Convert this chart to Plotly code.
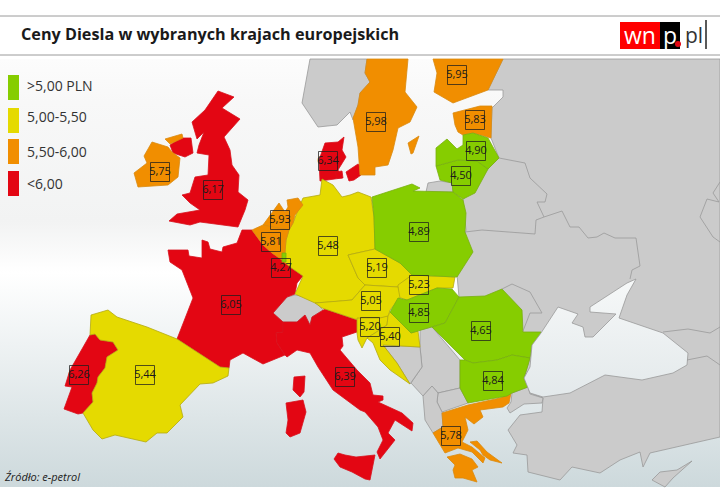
import plotly.graph_objects as go

RED = "#e30613"; YEL = "#e5da00"; ORA = "#f18e00"; GRN = "#86cd00"; GRY = "#cbcbcb"

east = [(503,59),(720,59),(720,437),(650,453),(643,467),(640,452),(620,460),(600,473),(572,467),(560,480),(528,472),(527,455),(513,453),(517,445),(508,430),(520,415),(542,412),(543,398),(530,393),(524,378),(530,358),(480,345),(459,297),(457,275),(466,230),(463,200),(488,169),(499,158),(491,138),(492,108),(503,97),(503,90),(488,90)]
black_sea = [(558,307),(578,314),(572,323),(583,327),(585,337),(593,337),(616,314),(590,312),(590,307),(627,283),(636,279),(627,295),(619,318),(663,333),(688,353),(687,365),(673,373),(642,380),(605,375),(570,393),(543,397),(530,393),(524,378),(530,367),(532,345),(541,333)]
norway = [(310,59),(360,59),(367,59),(365,73),(370,82),(360,93),(358,105),(353,120),(350,112),(337,125),(318,127),(302,103)]
switzerland = [(273,313),(287,297),(295,295),(315,298),(316,303),(323,310),(312,317),(310,325),(305,315),(297,322),(283,322)]
kaliningrad = [(428,183),(440,181),(453,183),(453,192),(426,192)]
serbia = [(420,330),(432,327),(460,360),(460,388),(438,393),(432,386),(423,396),(411,383),(422,367),(420,347)]
bosnia = [(383,345),(420,347),(422,367),(410,384),(397,363)]
macedonia = [(438,393),(460,388),(468,403),(442,412),(437,402)]
albania = [(423,396),(432,386),(438,393),(437,402),(442,412),(443,427),(433,433),(425,420)]
thrace = [(512,393),(528,387),(530,394),(543,398),(542,403),(524,404),(510,413),(507,408),(511,402)]
cyprus = [(652,480),(660,472),(677,470),(692,461),(673,478),(665,487)]

uk = [(218,91),(234,97),(222,108),(240,119),(224,137),(230,150),(232,165),(239,175),(238,192),(248,200),(245,210),(238,227),(200,222),(190,225),(169,221),(177,214),(200,210),(190,203),(182,195),(190,193),(195,177),(208,175),(209,155),(197,153),(199,145),(204,132),(197,139),(192,122),(205,110)]
n_ireland = [(170,145),(180,138),(191,138),(193,153),(185,157),(173,153)]
jutland = [(325,143),(338,142),(344,137),(342,150),(346,157),(342,163),(338,170),(342,178),(335,179),(320,181),(319,160)]
zealand = [(346,172),(358,164),(361,166),(361,175),(354,180),(349,181)]
funen = [(335,172),(342,171),(343,178),(337,178)]
france = [(168,250),(188,250),(189,256),(202,258),(202,240),(208,242),(210,249),(222,252),(223,247),(237,243),(242,230),(252,230),(263,245),(272,253),(282,260),(290,267),(303,276),(297,283),(295,294),(287,297),(273,313),(283,322),(283,332),(276,333),(277,343),(285,355),(263,364),(243,353),(230,360),(229,368),(220,367),(197,352),(177,339),(193,298),(182,270),(170,262)]
corsica = [(294,377),(305,376),(304,392),(300,397),(293,390)]
sardinia = [(286,403),(303,400),(306,412),(300,433),(290,437),(286,433),(288,420)]
sicily = [(334,459),(338,453),(345,455),(356,457),(375,455),(372,468),(370,480),(365,479),(352,472),(340,467)]
italy = [(283,322),(297,322),(305,315),(310,325),(312,317),(325,309),(357,320),(357,332),(342,337),(343,346),(340,350),(357,370),(370,383),(373,395),(383,396),(383,400),(378,402),(402,413),(413,423),(412,431),(395,420),(388,433),(395,440),(380,459),(377,452),(383,440),(378,427),(365,412),(360,410),(333,390),(318,367),(310,353),(297,350),(287,357),(285,355),(277,343),(276,333),(283,332)]
portugal = [(95,334),(100,340),(113,342),(118,350),(107,357),(105,368),(98,377),(97,383),(92,393),(93,402),(83,413),(78,414),(64,409),(72,387),(65,386),(70,370),(90,335)]

spain = [(91,315),(108,310),(117,317),(147,327),(177,339),(197,352),(220,367),(229,368),(228,376),(213,383),(200,384),(180,405),(183,417),(167,433),(157,433),(146,442),(115,435),(102,439),(93,430),(83,413),(93,402),(92,393),(97,383),(98,377),(105,368),(107,357),(118,350),(113,342),(100,340),(95,334),(90,335)]
germany = [(322,179),(333,185),(342,197),(350,195),(358,192),(371,197),(374,217),(375,249),(348,255),(358,278),(365,285),(352,300),(330,302),(315,303),(295,294),(303,276),(290,267),(282,260),(285,252),(286,240),(289,230),(293,223),(298,210),(303,198),(320,195)]
czechia = [(348,255),(375,249),(400,263),(415,277),(398,287),(365,285),(358,278)]
slovakia = [(398,285),(412,275),(455,277),(453,288),(437,288),(420,295),(407,300),(398,297)]
austria = [(315,303),(322,308),(358,320),(388,317),(390,310),(400,298),(398,287),(365,285),(352,300),(330,302)]
slovenia = [(357,318),(380,318),(388,316),(387,325),(375,333),(367,338),(362,348),(358,340),(357,333)]
croatia = [(388,316),(390,312),(411,333),(418,331),(420,347),(383,345),(397,363),(410,384),(390,370),(380,360),(373,343),(367,338),(375,333),(387,325)]

ireland = [(152,142),(168,147),(172,152),(180,158),(178,177),(168,185),(138,187),(134,173),(147,163),(144,156)]
donegal = [(165,139),(182,134),(183,138),(170,144)]
netherlands = [(279,203),(285,212),(288,207),(287,200),(298,198),(303,205),(295,215),(293,223),(289,230),(270,227),(263,225),(272,213)]
belgium = [(252,230),(263,225),(289,230),(286,240),(285,252),(282,260),(272,253),(263,245)]
sweden = [(367,59),(408,59),(405,92),(417,107),(410,122),(398,128),(393,150),(388,165),(375,167),(375,175),(360,175),(358,147),(353,118),(358,105),(360,93),(370,82),(365,73)]
finland = [(433,59),(503,59),(488,90),(453,103),(434,92),(437,73)]
estonia = [(453,113),(480,106),(492,106),(491,138),(473,133),(463,135),(458,132),(455,125)]
gotland = [(408,143),(419,136),(413,153),(411,154)]
greece = [(442,413),(468,405),(500,398),(511,393),(509,403),(503,407),(480,410),(483,417),(474,424),(465,417),(468,430),(462,442),(472,447),(485,458),(483,463),(472,452),(458,448),(445,453),(433,433),(443,427)]
euboea = [(470,442),(477,441),(487,452),(502,463),(490,460),(483,455),(480,450)]
peloponnese = [(447,457),(460,454),(472,459),(478,467),(472,470),(477,482),(463,478),(455,478),(453,470),(455,465)]

poland = [(372,197),(412,184),(420,188),(413,191),(453,192),(463,200),(466,213),(465,232),(473,252),(457,277),(412,275),(400,263),(375,249),(374,217)]
lithuania = [(436,166),(458,160),(477,161),(488,169),(475,193),(463,199),(453,192),(452,183),(440,180)]
latvia = [(436,148),(447,139),(457,149),(463,145),(463,135),(473,133),(488,138),(499,158),(488,169),(477,161),(458,160),(436,166)]
hungary = [(390,312),(398,298),(407,300),(420,295),(437,288),(452,289),(459,297),(445,323),(432,327),(411,333)]
romania = [(432,327),(445,323),(459,297),(485,296),(502,289),(522,310),(523,332),(541,332),(537,344),(532,345),(530,358),(512,355),(497,360),(473,363),(465,360)]
bulgaria = [(460,360),(465,360),(473,363),(497,360),(512,355),(530,358),(528,365),(524,378),(528,387),(512,393),(507,396),(468,403),(460,388)]
luxembourg = [(282,253),(286,253),(286,262),(282,262)]

border_ua_ru = [(499,158),(525,163),(530,178),(547,194),(545,202),(537,202),(544,217),(562,211),(570,227),(579,227),(588,238),(597,237),(604,233),(615,238),(636,238),(640,266),(632,270),(630,279)]
border_by_ua = [(465,232),(482,230),(535,234),(536,220),(544,217)]
border_moldova = [(502,289),(512,284),(530,292),(542,313),(530,313),(523,331)]
border_georgia_n = [(663,332),(688,329),(710,333),(720,327)]
border_georgia_s = [(687,360),(707,356),(720,365)]
border_east = [(720,182),(713,193),(719,202),(707,199),(700,217),(713,237),(720,242)]

label_values = ["5,95","5,98","5,83","4,90","4,50","6,34","5,75","6,17","5,93","5,81","4,27","5,48","4,89","5,19","5,23","5,05","4,85","5,20","5,40","4,65","4,84","5,78","6,05","6,26","5,44","6,39"]
label_x = [457,376,475,476,461,328,160,213,280,271,281,328,419,377,419,371,419,370,390,481,493,451,231,79,145,345]
label_y = [75,122,120,151,176,161,172,190,220,242,268,246,232,268,285,301,313,327,337,331,381,436,305,375,375,377]

legend_labels = [">5,00 PLN","5,00-5,50","5,50-6,00","<6,00"]
legend_colors = [GRN, YEL, ORA, RED]
legend_top = [75,108,139,171]

groups = [
    (GRY, "#999999", [east, norway, switzerland, kaliningrad, serbia, bosnia, macedonia, albania, thrace, cyprus]),
    (RED, "#d8101c", [uk, n_ireland, jutland, zealand, funen, france, corsica, sardinia, sicily, italy, portugal]),
    (YEL, "#b4aa10", [spain, germany, czechia, slovakia, austria, slovenia, croatia]),
    (ORA, "#d98a10", [ireland, donegal, netherlands, belgium, sweden, finland, estonia, gotland, greece, euboea, peloponnese]),
    (GRN, "#78b010", [poland, lithuania, latvia, hungary, romania, bulgaria, luxembourg]),
]

fig = go.Figure()
fig.add_trace(go.Scatter(
    x=[0,720,720,0,0], y=[59,59,487,487,59], mode="lines", fill="toself", line=dict(width=0),
    fillgradient=dict(type="vertical", colorscale=[[0,"#cdd9dc"],[0.5,"#ffffff"],[0.62,"#f2f3f3"],[0.9,"#f8f8f8"],[1,"#fcfcfc"]]),
    hoverinfo="skip", showlegend=False))

for fill, line, polys in groups:
    for poly in polys:
        fig.add_trace(go.Scatter(
            x=[p[0] for p in poly]+[poly[0][0]], y=[p[1] for p in poly]+[poly[0][1]],
            mode="lines", fill="toself", fillcolor=fill, line=dict(color=line, width=0.8),
            hoverinfo="skip", showlegend=False))

fig.add_trace(go.Scatter(
    x=[p[0] for p in black_sea]+[black_sea[0][0]], y=[p[1] for p in black_sea]+[black_sea[0][1]],
    mode="lines", fill="toself", line=dict(color="#999999", width=0.8),
    fillgradient=dict(type="vertical", colorscale=[[0,"#e3e9eb"],[1,"#f6f8f8"]]),
    hoverinfo="skip", showlegend=False))

for border in [border_ua_ru, border_by_ua, border_moldova, border_georgia_n, border_georgia_s, border_east]:
    fig.add_trace(go.Scatter(x=[p[0] for p in border], y=[p[1] for p in border], mode="lines",
                             line=dict(color="#999999", width=0.8), hoverinfo="skip", showlegend=False))

fig.add_trace(go.Scatter(
    x=label_x, y=label_y, text=label_values, mode="markers+text", textposition="middle center",
    marker=dict(symbol="square-open", size=19, color="rgba(30,30,30,0.75)", line=dict(width=1)),
    textfont=dict(family="Open Sans", size=11, color="#1a1a1a"),
    hoverinfo="skip", showlegend=False))

shapes = []
for y in [16, 55]:
    shapes.append(dict(type="line", x0=0, x1=720, y0=y, y1=y, line=dict(color="#9a9a9a", width=1), layer="above"))
for top, col in zip(legend_top, legend_colors):
    shapes.append(dict(type="rect", x0=8, x1=19, y0=top, y1=top+25, fillcolor=col, line=dict(width=0)))
shapes += [
    dict(type="rect", x0=620, x1=660, y0=22, y1=49, fillcolor="#ff0000", line=dict(width=0)),
    dict(type="rect", x0=660, x1=680, y0=22, y1=49, fillcolor="#000000", line=dict(width=0)),
    dict(type="circle", x0=675, x1=681, y0=41, y1=47, fillcolor="#e30613", line=dict(width=0), layer="above"),
    dict(type="line", x0=706, x1=706, y0=20, y1=49, line=dict(color="#222222", width=1.5)),
]

annotations = [
    dict(x=19, y=34, text="<b>Ceny Diesla w wybranych krajach europejskich</b>", xanchor="left",
         font=dict(family="Open Sans", size=16.2, color="#1a1a1a")),
    dict(x=2, y=476, text="<i>Źródło: e-petrol</i>", xanchor="left", font=dict(family="Open Sans", size=11, color="#222222")),
    dict(x=640, y=35, text="wn", xanchor="center", font=dict(family="Open Sans", size=23, color="#ffffff")),
    dict(x=670, y=35, text="p", xanchor="center", font=dict(family="Open Sans", size=23, color="#ffffff")),
    dict(x=683, y=35, text="pl", xanchor="left", font=dict(family="Open Sans", size=21, color="#333333")),
]
for lab, y in zip(legend_labels, [85,116,151,183]):
    annotations.append(dict(x=25, y=y, text=lab, xanchor="left", font=dict(family="Open Sans", size=14, color="#333333")))
for a in annotations:
    a.update(xref="x", yref="y", showarrow=False, yanchor="middle")

fig.update_layout(
    width=720, height=500, margin=dict(l=0, r=0, t=0, b=0),
    paper_bgcolor="white", plot_bgcolor="white", showlegend=False,
    xaxis=dict(range=[0,720], visible=False, fixedrange=True),
    yaxis=dict(range=[500,0], visible=False, fixedrange=True),
    shapes=shapes, annotations=annotations,
)
fig.write_html("out.html", config=dict(displayModeBar=False),
               post_script="document.body.style.margin='0';")
